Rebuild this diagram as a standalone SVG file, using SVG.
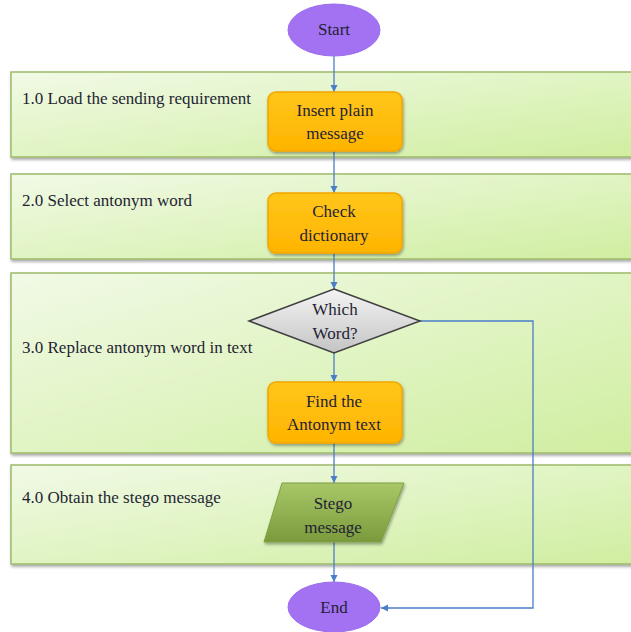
<svg xmlns="http://www.w3.org/2000/svg" width="631" height="632" viewBox="0 0 631 632">
<defs>
<linearGradient id="band" x1="0" y1="0" x2="1" y2="1">
<stop offset="0" stop-color="#f1fae6"/>
<stop offset="1" stop-color="#d0eea0"/>
</linearGradient>
<linearGradient id="orange" x1="0" y1="0" x2="0" y2="1">
<stop offset="0" stop-color="#ffc61a"/>
<stop offset="1" stop-color="#ffb400"/>
</linearGradient>
<linearGradient id="gray" x1="0" y1="0" x2="0" y2="1">
<stop offset="0" stop-color="#f4f4f4"/>
<stop offset="1" stop-color="#c4c4c4"/>
</linearGradient>
<linearGradient id="olive" x1="0" y1="0" x2="0" y2="1">
<stop offset="0" stop-color="#a8c868"/>
<stop offset="1" stop-color="#7a9a3c"/>
</linearGradient>
<filter id="sh" x="-5%" y="-10%" width="115%" height="130%">
<feDropShadow dx="1" dy="2" stdDeviation="1.5" flood-color="#000" flood-opacity="0.35"/>
</filter>
<marker id="arr" markerWidth="8" markerHeight="8" refX="7" refY="4" orient="auto" markerUnits="userSpaceOnUse">
<path d="M0,0.5 L7,4 L0,7.5 Z" fill="#4a7ec8"/>
</marker>
</defs>
<style>
.band{fill:url(#band);stroke:#9dbb6a;stroke-width:1.5;filter:url(#sh)}
.proc{fill:url(#orange);stroke:#f3a500;stroke-width:1.5;filter:url(#sh)}
.term{fill:#a272f2;stroke:#9a6cec;stroke-width:1}
.dec{fill:url(#gray);stroke:#404040;stroke-width:1.5}
.io{fill:url(#olive);stroke:#7f9f45;stroke-width:1;filter:url(#sh)}
text{font-family:"Liberation Serif","Times New Roman",serif;font-size:17px;fill:#1f1f33}
.c{text-anchor:middle}
.conn{fill:none;stroke:#4a7ec8;stroke-width:1.3;marker-end:url(#arr)}
</style>
<g id="lanes">
<g id="lane1"><rect class="band" x="11" y="72" width="625" height="85"/><text x="22" y="104">1.0 Load the sending requirement</text></g>
<g id="lane2"><rect class="band" x="11" y="174" width="625" height="85"/><text x="22" y="206">2.0 Select antonym word</text></g>
<g id="lane3"><rect class="band" x="11" y="273" width="625" height="180"/><text x="22" y="353">3.0 Replace antonym word in text</text></g>
<g id="lane4"><rect class="band" x="11" y="465" width="625" height="99"/><text x="22" y="503">4.0 Obtain the stego message</text></g>
</g>
<g id="connectors">
<line class="conn" x1="334" y1="56" x2="334" y2="92"/>
<line class="conn" x1="334" y1="151" x2="334" y2="193"/>
<line class="conn" x1="334" y1="253" x2="334" y2="289"/>
<line class="conn" x1="334" y1="353" x2="334" y2="382"/>
<line class="conn" x1="334" y1="443" x2="334" y2="483"/>
<line class="conn" x1="334" y1="542" x2="334" y2="582"/>
<polyline class="conn" points="420,321 533,321 533,608 381,608"/>
</g>
<g id="start"><ellipse class="term" cx="334" cy="30" rx="46" ry="26"/><text class="c" x="334" y="35">Start</text></g>
<g id="insert"><rect class="proc" x="268" y="92" width="134" height="59" rx="8"/><text class="c" x="335" y="116">Insert plain</text><text class="c" x="335" y="139">message</text></g>
<g id="check"><rect class="proc" x="268" y="193" width="134" height="60" rx="8"/><text class="c" x="334" y="217">Check</text><text class="c" x="334" y="241">dictionary</text></g>
<g id="which"><polygon class="dec" points="334,289 420,321 334,353 249,321"/><text class="c" x="335" y="315">Which</text><text class="c" x="335" y="339">Word?</text></g>
<g id="find"><rect class="proc" x="268" y="382" width="134" height="61" rx="8"/><text class="c" x="334" y="407">Find the</text><text class="c" x="334" y="430">Antonym text</text></g>
<g id="stego"><polygon class="io" points="282,483 404,483 381,542 264,542"/><text class="c" x="333" y="509">Stego</text><text class="c" x="333" y="533">message</text></g>
<g id="end"><ellipse class="term" cx="334" cy="607" rx="46" ry="25"/><text class="c" x="334" y="613">End</text></g>
</svg>
